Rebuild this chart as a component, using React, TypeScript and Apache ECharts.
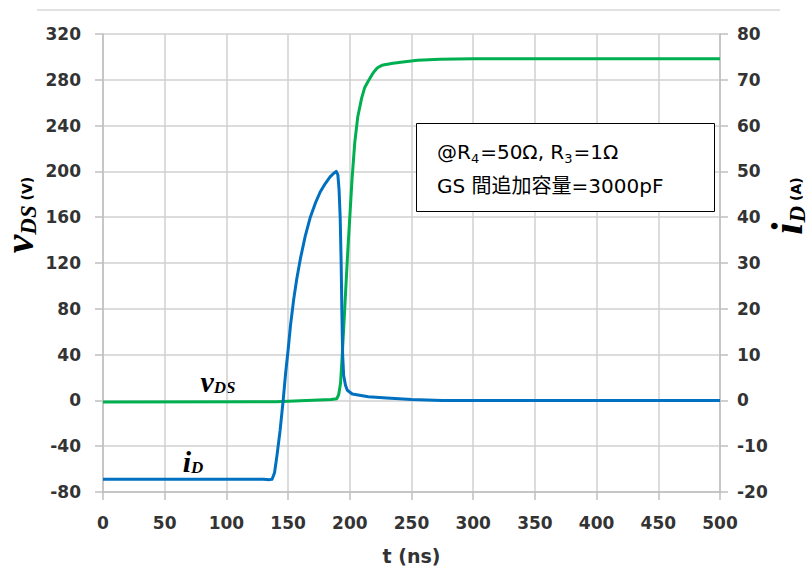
import React, { useEffect, useRef } from "react";
import * as echarts from "echarts";

// ---- data ----
const vdsTime = [0, 140, 160, 185, 189.5, 191, 192.5, 194, 195.5, 197, 198.5, 200, 201.8, 204, 206.5, 209.6, 212, 215, 218, 220, 222, 224, 227, 235, 243, 255, 273, 300, 500];
const vdsValues = [-1.5, -1.2, -0.3, 0.8, 1.5, 5, 15, 42, 72, 103, 133, 160, 193, 225, 248, 264, 273, 279, 284.5, 287.5, 290, 291.5, 293, 294.5, 295.5, 297, 298, 298.3, 298.3];

const idTime = [0, 130, 135, 137, 139, 141, 143.5, 146, 148, 150, 152, 154.5, 157, 160, 164, 168, 172, 176, 180, 184, 187, 189, 190.3, 191.3, 192.2, 193, 193.6, 194.2, 195, 196.5, 198, 202, 215, 230, 250, 275, 500];
const idValues = [-17.2, -17.2, -17.3, -17.2, -15.8, -12, -6.6, 0, 6, 11, 16.5, 22, 26.5, 31, 36, 40, 43, 45.5, 47.3, 48.8, 49.6, 50, 49.3, 46, 40, 30, 19, 10, 5.5, 3.3, 2.2, 1.4, 0.8, 0.5, 0.2, 0, 0];

const xTicks = { min: 0, max: 500, interval: 50 };
const leftTicks = { min: -80, max: 320, interval: 40 };
const rightTicks = { min: -20, max: 80, interval: 10 };

const noteLine1 = ["@R", "4", "=50Ω, R", "3", "=1Ω"];
const noteLine2 = "GS 間追加容量=3000pF";

const GREEN = "#00b050";
const BLUE = "#0070c0";
const LABEL = "#333333";
const GRID = "#d0d0d0";
const AXIS = "#bfbfbf";
const TICKFONT = "DejaVu Sans";
const NOTEFONT = "DejaVu Sans, Noto Sans CJK JP";

export default function App() {
  const ref = useRef<HTMLDivElement>(null);
  useEffect(() => {
    if (!ref.current) return;
    const chart = echarts.init(ref.current, null, { renderer: "svg" });
    const axisLabel = (margin: number) => ({
      color: LABEL,
      fontFamily: TICKFONT,
      fontWeight: "bold" as const,
      fontSize: 17,
      margin,
    });
    const serif = { fontFamily: "Liberation Serif", fontStyle: "italic", fontWeight: "bold", fill: "#000" };
    const option: any = {
      animation: false,
      backgroundColor: "#ffffff",
      grid: { left: 103, right: 91, top: 34, bottom: 76, containLabel: false, outerBoundsMode: "none" },
      xAxis: {
        type: "value",
        ...xTicks,
        name: "t (ns)",
        nameLocation: "middle",
        nameGap: 54,
        nameTextStyle: { color: LABEL, fontFamily: TICKFONT, fontWeight: "bold", fontSize: 19 },
        axisLine: { show: true, onZero: false, lineStyle: { color: AXIS, width: 1.5 } },
        axisTick: { show: true, inside: false, length: 8, lineStyle: { color: AXIS, width: 1.5 } },
        axisLabel: axisLabel(22),
        splitLine: { show: true, lineStyle: { color: GRID, width: 1.5 } },
      },
      yAxis: [
        {
          type: "value",
          position: "left",
          ...leftTicks,
          axisLine: { show: true, onZero: false, lineStyle: { color: AXIS, width: 1.5 } },
          axisTick: { show: true, inside: false, length: 8, lineStyle: { color: AXIS, width: 1.5 } },
          axisLabel: axisLabel(22),
          splitLine: { show: true, lineStyle: { color: GRID, width: 1.5 } },
        },
        {
          type: "value",
          position: "right",
          ...rightTicks,
          axisLine: { show: true, onZero: false, lineStyle: { color: AXIS, width: 1.5 } },
          axisTick: { show: true, inside: false, length: 8, lineStyle: { color: AXIS, width: 1.5 } },
          axisLabel: axisLabel(17),
          splitLine: { show: false },
        },
      ],
      series: [
        {
          name: "vDS",
          type: "line",
          yAxisIndex: 0,
          data: vdsTime.map((t, i) => [t, vdsValues[i]]),
          showSymbol: false,
          symbol: "none",
          lineStyle: { color: GREEN, width: 3, join: "round" },
          z: 3,
        },
        {
          name: "iD",
          type: "line",
          yAxisIndex: 1,
          data: idTime.map((t, i) => [t, idValues[i]]),
          showSymbol: false,
          symbol: "none",
          lineStyle: { color: BLUE, width: 3, join: "round" },
          z: 4,
        },
      ],
      graphic: [
        {
          type: "line",
          shape: { x1: 37, y1: 10, x2: 780, y2: 10 },
          style: { stroke: "#d9d9d9", lineWidth: 1.5 },
        },
        {
          type: "rect",
          shape: { x: 416.5, y: 123.5, width: 298, height: 88 },
          style: { fill: "#ffffff", stroke: "#000000", lineWidth: 1 },
          z: 10,
        },
        {
          type: "text",
          x: 437,
          y: 152,
          z: 11,
          style: {
            text: `{m|${noteLine1[0]}}{s|${noteLine1[1]}}{m|${noteLine1[2]}}{s|${noteLine1[3]}}{m|${noteLine1[4]}}`,
            verticalAlign: "middle",
            align: "left",
            rich: {
              m: { fontFamily: NOTEFONT, fontSize: 20, fill: "#000", lineHeight: 26, verticalAlign: "middle" },
              s: { fontFamily: NOTEFONT, fontSize: 13, fill: "#000", lineHeight: 26, verticalAlign: "bottom", padding: [0, 1, 0, 0] },
            },
          },
        },
        {
          type: "text",
          x: 437,
          y: 186,
          z: 11,
          style: {
            text: noteLine2,
            fontFamily: NOTEFONT,
            fontSize: 20,
            fill: "#000",
            verticalAlign: "middle",
            align: "left",
          },
        },
        {
          type: "text",
          x: 23,
          y: 215,
          rotation: Math.PI / 2,
          style: {
            text: "{v|v}{s|DS}{u| (V)}",
            align: "center",
            verticalAlign: "middle",
            rich: {
              v: { ...serif, fontSize: 42, lineHeight: 34, verticalAlign: "bottom" },
              s: { ...serif, fontSize: 23, lineHeight: 34, verticalAlign: "bottom" },
              u: { fontFamily: "DejaVu Sans", fontWeight: "bold", fontSize: 14, fill: "#000", lineHeight: 34, verticalAlign: "bottom", padding: [0, 0, 6, 0] },
            },
          },
        },
        {
          type: "text",
          x: 791,
          y: 206,
          rotation: Math.PI / 2,
          style: {
            text: "{v|i}{s|D}{u| (A)}",
            align: "center",
            verticalAlign: "middle",
            rich: {
              v: { ...serif, fontSize: 44, lineHeight: 36, verticalAlign: "bottom" },
              s: { ...serif, fontSize: 23, lineHeight: 36, verticalAlign: "bottom" },
              u: { fontFamily: "DejaVu Sans", fontWeight: "bold", fontSize: 14, fill: "#000", lineHeight: 36, verticalAlign: "bottom", padding: [0, 0, 6, 0] },
            },
          },
        },
        {
          type: "text",
          x: 218,
          y: 382,
          style: {
            text: "{v|v}{s|DS}",
            align: "center",
            verticalAlign: "middle",
            rich: {
              v: { ...serif, fontSize: 30, lineHeight: 28, verticalAlign: "bottom" },
              s: { ...serif, fontSize: 17, lineHeight: 28, verticalAlign: "bottom" },
            },
          },
        },
        {
          type: "text",
          x: 193,
          y: 462,
          style: {
            text: "{v|i}{s|D}",
            align: "center",
            verticalAlign: "middle",
            rich: {
              v: { ...serif, fontSize: 30, lineHeight: 28, verticalAlign: "bottom" },
              s: { ...serif, fontSize: 17, lineHeight: 28, verticalAlign: "bottom" },
            },
          },
        },
      ],
    };
    chart.setOption(option);
    return () => chart.dispose();
  }, []);
  return <div ref={ref} style={{ width: 811, height: 568, position: "absolute", left: 0, top: 0 }} />;
}
